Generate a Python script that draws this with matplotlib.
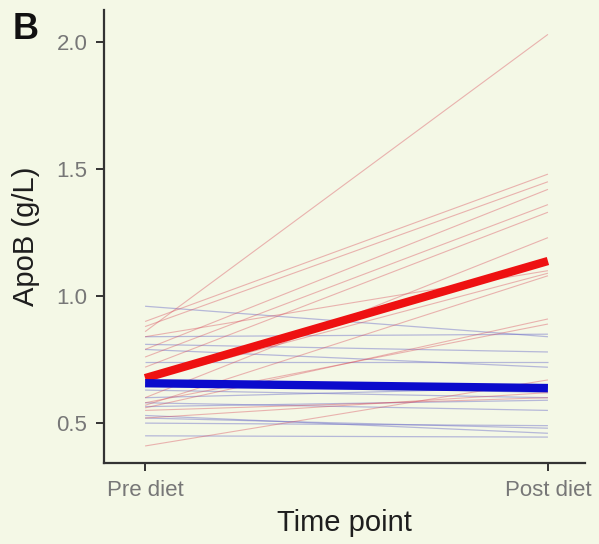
import matplotlib
matplotlib.use("Agg")
import matplotlib.pyplot as plt

# time points on the x axis
time_labels = ["Pre diet", "Post diet"]

# individual subjects, group shown in red (pre, post) in g/L
red_pre = [0.86, 0.90, 0.88, 0.79, 0.76, 0.72, 0.60, 0.67, 0.57, 0.84, 0.56, 0.58, 0.41, 0.55, 0.52]
red_post = [2.03, 1.48, 1.45, 1.42, 1.36, 1.33, 1.23, 1.09, 1.08, 1.10, 0.91, 0.89, 0.67, 0.60, 0.62]

# individual subjects, group shown in blue
blue_pre = [0.96, 0.84, 0.81, 0.79, 0.74, 0.66, 0.63, 0.58, 0.565, 0.53, 0.52, 0.50, 0.45, 0.60]
blue_post = [0.84, 0.85, 0.78, 0.72, 0.74, 0.62, 0.60, 0.55, 0.59, 0.46, 0.48, 0.49, 0.445, 0.64]

# group means
red_mean = [0.677, 1.138]
blue_mean = [0.657, 0.638]

y_ticks = [0.5, 1.0, 1.5, 2.0]

bg = "#F4F8E6"
plt.rcParams['font.family'] = ['Liberation Sans', 'DejaVu Sans']

fig = plt.figure(figsize=(5.99, 5.44), dpi=100, facecolor=bg)
ax = fig.add_axes([104 / 599, 1 - 463 / 544, (585 - 104) / 599, (463 - 10) / 544])
ax.set_facecolor(bg)

x = [1, 2]
for a, b in zip(blue_pre, blue_post):
    ax.plot(x, [a, b], color="#6a6ac8", alpha=0.45, lw=0.9, solid_capstyle="butt")
for a, b in zip(red_pre, red_post):
    ax.plot(x, [a, b], color="#d84a5a", alpha=0.4, lw=0.8, solid_capstyle="butt")

ax.plot(x, red_mean, color="#EE1111", lw=6, solid_capstyle="butt", zorder=5)
ax.plot(x, blue_mean, color="#0B0BCC", lw=6, solid_capstyle="butt", zorder=6)

ax.set_xlim(0.898, 2.092)
ax.set_ylim(0.343, 2.126)
ax.set_xticks(x)
ax.set_xticklabels(time_labels)
ax.set_yticks(y_ticks)
ax.set_yticklabels([f"{t:.1f}" for t in y_ticks])

for s in ["top", "right"]:
    ax.spines[s].set_visible(False)
for s in ["left", "bottom"]:
    ax.spines[s].set_color("#333333")
    ax.spines[s].set_linewidth(1.6)

ax.tick_params(axis="both", colors="#333333", labelcolor="#777777",
               labelsize=16, length=6, width=1.4, pad=6)

ax.set_xlabel("Time point", fontsize=21, color="#1e1e1e", labelpad=6)
ax.set_ylabel("ApoB (g/L)", fontsize=21, color="#1e1e1e", labelpad=12)

fig.text(13 / 599, 1 - 12 / 544, "B", fontsize=26, fontweight="bold",
         color="#111111", ha="left", va="top")

fig.savefig("out.png", dpi=100, facecolor=bg)
